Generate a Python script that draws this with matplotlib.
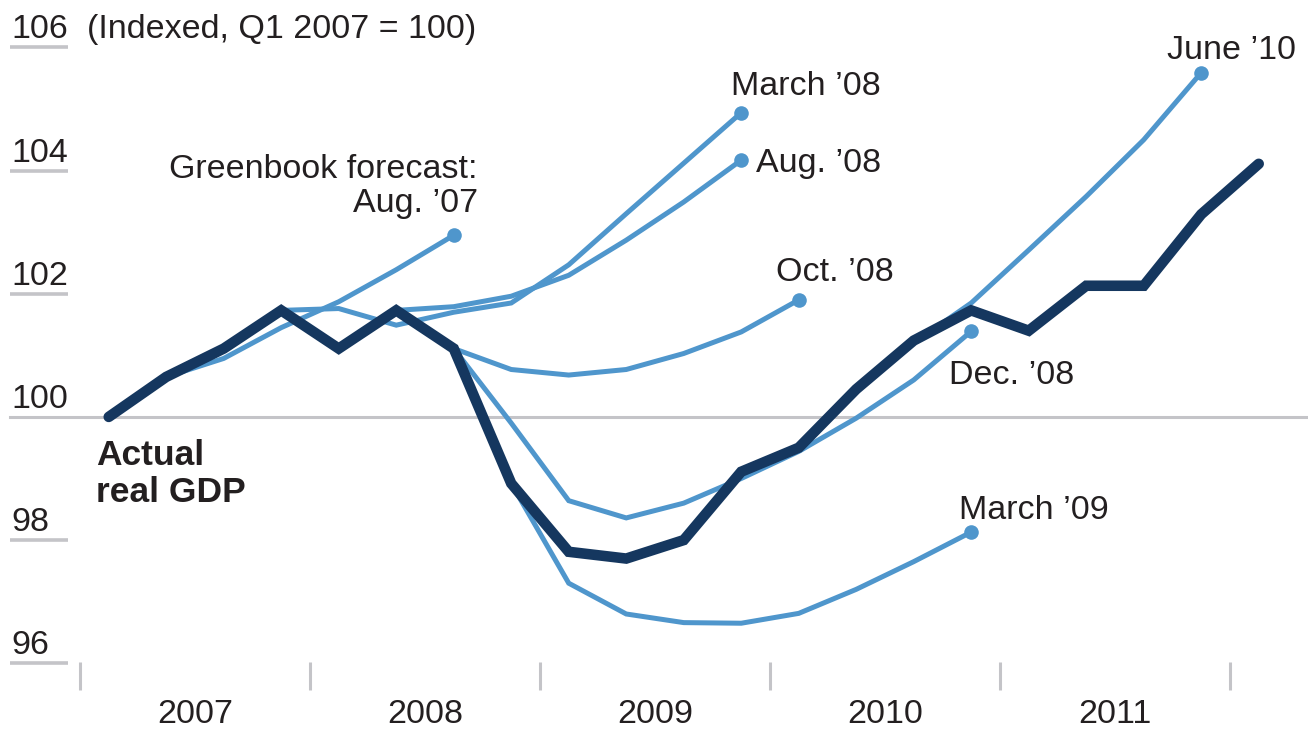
import matplotlib
matplotlib.use("Agg")
import matplotlib.pyplot as plt

# ---------------- data ----------------
quarters = [f"Q{q} {y}" for y in range(2007, 2012) for q in range(1, 5)] + ["Q1 2012"]
years = ["2007", "2008", "2009", "2010", "2011"]
ytick_values = [96, 98, 100, 102, 104, 106]

actual = [100.0, 100.65, 101.11, 101.73, 101.11, 101.73, 101.11, 98.92, 97.81, 97.70,
          98.00, 99.11, 99.50, 100.45, 101.24, 101.73, 101.40, 102.13, 102.13, 103.29, 104.11]

aug07_start = "Q2 2007"
aug07 = [100.65, 100.95, 101.45, 101.87, 102.39, 102.95]

mar08_start = "Q4 2007"
mar08 = [101.73, 101.76, 101.49, 101.70, 101.85, 102.47, 103.30, 104.12, 104.94]

aug08_start = "Q2 2008"
aug08 = [101.73, 101.79, 101.96, 102.30, 102.87, 103.49, 104.17]

oct08_start = "Q3 2008"
oct08 = [101.11, 100.77, 100.68, 100.77, 101.03, 101.38, 101.90]

dec08_start = "Q3 2008"
dec08 = [101.11, 99.90, 98.64, 98.36, 98.60, 99.00, 99.44, 99.98, 100.60, 101.39]

mar09_start = "Q4 2008"
mar09 = [98.92, 97.30, 96.80, 96.66, 96.65, 96.81, 97.20, 97.65, 98.13]

jun10_start = "Q1 2010"
jun10 = [99.50, 100.44, 101.20, 101.85, 102.71, 103.58, 104.50, 105.59]

forecast_labels = ["Greenbook forecast:\nAug. \u201907", "March \u201908", "Aug. \u201908",
                   "Oct. \u201908", "Dec. \u201908", "March \u201909", "June \u201910"]
forecasts = [(aug07_start, aug07), (mar08_start, mar08), (aug08_start, aug08),
             (oct08_start, oct08), (dec08_start, dec08), (mar09_start, mar09),
             (jun10_start, jun10)]

# ---------------- style ----------------
LIGHT = "#4f96cc"
DARK = "#15375f"
GRAY = "#c4c4c8"
TEXT = "#231f20"
FONT = ["Liberation Sans", "DejaVu Sans"]
FS = 24.5

plt.rcParams["font.family"] = FONT

fig = plt.figure(figsize=(13.08, 7.31), dpi=100)
ax = fig.add_axes([0, 0, 1, 1])
ax.set_xlim(-1.891, 20.857)
ax.set_ylim(94.90, 106.77)
ax.axis("off")

# baseline at 100
ax.axhline(100, xmin=10 / 1308, xmax=1.0, color=GRAY, lw=2.2, zorder=1)

# y labels with short underlines
for v in ytick_values:
    if v != 100:
        ax.plot([-1.72, -0.71], [v, v], color=GRAY, lw=2.6, solid_capstyle="butt",
                zorder=1)
    ax.annotate(str(v), xy=(-1.69, v), xytext=(0, 9), textcoords="offset pixels",
                ha="left", va="baseline", fontsize=FS, color=TEXT)
ax.annotate("(Indexed, Q1 2007 = 100)", xy=(-0.38, 106), xytext=(0, 9),
            textcoords="offset pixels", ha="left", va="baseline", fontsize=FS,
            color=TEXT)

# x ticks and year labels
for j, yr in enumerate(years):
    ax.text(4 * j + 1.5, 95.17, yr, ha="center", va="center", fontsize=FS, color=TEXT)
for j in range(len(years) + 1):
    ax.plot([4 * j - 0.5, 4 * j - 0.5], [95.57, 96.02], color=GRAY, lw=2.2,
            solid_capstyle="butt", zorder=1)

# forecasts
label_offsets = [(24, 16), (-10, 26), (15, -3), (-23, 27), (-22, -44), (-12, 22), (-34, 22)]
label_ha = ["right", "left", "left", "left", "left", "left", "left"]
label_va = ["bottom", "center", "center", "center", "center", "center", "center"]
for (start, vals), lab, off, ha, va in zip(forecasts, forecast_labels, label_offsets,
                                           label_ha, label_va):
    s = quarters.index(start)
    xs = list(range(s, s + len(vals)))
    ax.plot(xs, vals, color=LIGHT, lw=3.6, solid_joinstyle="miter",
            solid_capstyle="butt", zorder=2)
    ax.plot(xs[-1], vals[-1], "o", color=LIGHT, ms=10.5, mew=0, zorder=3)
    ax.annotate(lab, xy=(xs[-1], vals[-1]), xytext=off, textcoords="offset pixels",
                ha=ha, va=va, fontsize=FS, color=TEXT, linespacing=1.12, zorder=5)

# actual GDP
ax.plot(range(len(actual)), actual, color=DARK, lw=7.6, solid_joinstyle="miter",
        solid_capstyle="round", zorder=4)
ax.annotate("Actual\nreal GDP", xy=(0, actual[0]), xytext=(-13, -22),
            textcoords="offset pixels", ha="left", va="top", fontsize=25.5,
            fontweight="bold", color=TEXT, linespacing=1.16)

fig.savefig("out.png", dpi=100)
